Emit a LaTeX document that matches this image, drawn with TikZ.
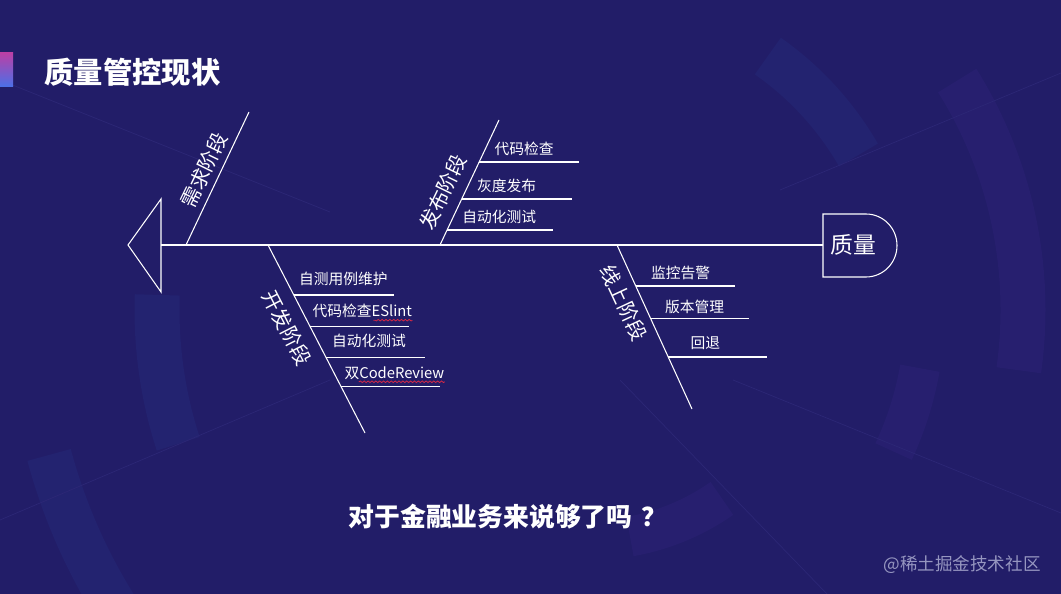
\documentclass[tikz,border=0pt]{standalone}
\usepackage{fontspec}
\setmainfont{Noto Sans CJK SC}
\usetikzlibrary{calc,decorations.pathmorphing}
\definecolor{bg}{RGB}{34,29,104}
\definecolor{bgpurple}{RGB}{39,31,111}
\definecolor{bgblue}{RGB}{35,35,112}
\definecolor{bgline}{RGB}{44,39,118}
\definecolor{spell}{RGB}{214,40,70}
\definecolor{wmgray}{RGB}{150,150,192}
\definecolor{barpink}{RGB}{186,64,166}
\definecolor{barblue}{RGB}{74,112,232}

\begin{document}
\begin{tikzpicture}[x=0.02cm, y=-0.02cm,
    every node/.style={text=white, inner sep=0pt},
    bone/.style={draw=white, line width=0.6pt},
    stage/.style={font=\fontsize{11.5}{12}\selectfont},
    item/.style={font=\fontsize{8.4}{9}\selectfont, anchor=west},
    spellmark/.style={draw=spell, line width=0.45pt, decorate,
      decoration={snake, amplitude=0.45pt, segment length=2.2pt}}]
  \useasboundingbox (0,0) rectangle (1061,594);
  % background
  \fill[bg] (0,0) rectangle (1061,594);
  \begin{scope}
    \clip (0,0) rectangle (1061,594);
    \coordinate (ctr) at (590,310);
    \draw[bgpurple, line width=0.9cm] ($(ctr)+(-32:433)$) arc[start angle=-32, end angle=8, radius=433];
    \draw[bgblue, line width=0.9cm] ($(ctr)+(162:433)$) arc[start angle=162, end angle=182, radius=433];
    \draw[bgblue, line width=0.9cm] ($(ctr)+(148:560)$) arc[start angle=148, end angle=165, radius=560];
    \draw[bgblue, line width=0.9cm] ($(ctr)+(-55:310)$) arc[start angle=-55, end angle=-30, radius=310];
    \draw[bgpurple, line width=0.8cm] ($(ctr)+(10:335)$) arc[start angle=10, end angle=25, radius=335];
    \draw[bgpurple, line width=0.8cm] ($(ctr)+(55:230)$) arc[start angle=55, end angle=80, radius=230];
    \draw[bgline] (0,80) -- (330,212);
    \draw[bgline] (0,520) -- (330,380);
    \draw[bgline] (780,190) -- (1061,73);
    \draw[bgline] (733,380) -- (1061,513);
    \draw[bgline] (620,380) -- (827,594);
  \end{scope}
  \shade[top color=barpink, bottom color=barblue] (0,53) rectangle (13,87);
  \node[font=\fontsize{16.7}{18}\selectfont\bfseries, anchor=west] (title) at (44,72) {质量管控现状};

  % spine, tail and head
  \coordinate (tip) at (128,245); \coordinate (tailtop) at (161,199); \coordinate (tailbot) at (161,292);
  \coordinate (tail) at (161,245); \coordinate (headw) at (823,245);
  \draw[bone] (tailtop) -- (tip) -- (tailbot) -- cycle;
  \draw[bone, line width=0.8pt] (tail) -- (headw);
  \draw[bone] (823,214) -- (866,214) arc[start angle=-90, end angle=90, x radius=31, y radius=31.5] -- (823,277) -- cycle;
  \node[font=\fontsize{13}{14}\selectfont] (head) at (853,245) {质量};

  % 需求阶段
  \coordinate (xq0) at (186,245); \coordinate (xq1) at (249,112);
  \draw[bone] (xq0) -- (xq1);
  \node[stage, rotate=64] (xq) at (204,170) {需求阶段};

  % 发布阶段
  \coordinate (fb0) at (440,245); \coordinate (fb1) at (499,120);
  \draw[bone] (fb0) -- (fb1);
  \node[stage, rotate=64] (fb) at (443,192) {发布阶段};
  \coordinate (fba) at ($(fb0)!0.664!(fb1)$); \coordinate (fbb) at ($(fb0)!0.368!(fb1)$); \coordinate (fbc) at ($(fb0)!0.12!(fb1)$);
  \draw[bone] (fba) -- ++(100,0); \node[item] (fba-t) at ($(fba)+(15,-13)$) {代码检查};
  \draw[bone] (fbb) -- ++(110,0); \node[item] (fbb-t) at ($(fbb)+(15,-13)$) {灰度发布};
  \draw[bone] (fbc) -- ++(106,0); \node[item] (fbc-t) at ($(fbc)+(15,-13)$) {自动化测试};

  % 开发阶段
  \coordinate (kf0) at (268,245); \coordinate (kf1) at (365,433);
  \draw[bone] (kf0) -- (kf1);
  \node[stage, rotate=-63] (kf) at (287,328) {开发阶段};
  \coordinate (kfa) at ($(kf0)!0.266!(kf1)$); \coordinate (kfb) at ($(kf0)!0.436!(kf1)$);
  \coordinate (kfc) at ($(kf0)!0.596!(kf1)$); \coordinate (kfd) at ($(kf0)!0.755!(kf1)$);
  \draw[bone] (kfa) -- ++(100,0); \node[item] (kfa-t) at ($(kfa)+(5,-16)$) {自测用例维护};
  \draw[bone] (kfb) -- ++(99,0); \node[item] (kfb-t) at ($(kfb)+(2,-16)$) {代码检查ESlint};
  \draw[bone] (kfc) -- ++(99,0); \node[item] (kfc-t) at ($(kfc)+(6,-16)$) {自动化测试};
  \draw[bone] (kfd) -- ++(99,0); \node[item] (kfd-t) at ($(kfd)+(3,-14)$) {双CodeReview};
  \draw[spellmark] ($(kfb-t.south east)+(0,2)$) -- ++(-39,0);
  \draw[spellmark] ($(kfd-t.south east)+(0,2)$) -- ++(-86,0);

  % 线上阶段
  \coordinate (xs0) at (617,245); \coordinate (xs1) at (692,409);
  \draw[bone] (xs0) -- (xs1);
  \node[stage, rotate=-65] (xs) at (624,303) {线上阶段};
  \coordinate (xsa) at ($(xs0)!0.25!(xs1)$); \coordinate (xsb) at ($(xs0)!0.451!(xs1)$); \coordinate (xsc) at ($(xs0)!0.683!(xs1)$);
  \draw[bone] (xsa) -- ++(99,0); \node[item] (xsa-t) at ($(xsa)+(15,-13)$) {监控告警};
  \draw[bone] (xsb) -- ++(98,0); \node[item] (xsb-t) at ($(xsb)+(14,-12)$) {版本管理};
  \draw[bone] (xsc) -- ++(99,0); \node[item] (xsc-t) at ($(xsc)+(22,-14)$) {回退};

  % question and watermark
  \node[font=\fontsize{14.7}{16}\selectfont\bfseries] (ask) at (508,517) {对于金融业务来说够了吗\hspace{0.35em}？};
  \node[font=\fontsize{10}{12}\selectfont, text=wmgray, anchor=east] (wm) at (1041,565) {@稀土掘金技术社区};
\end{tikzpicture}
\end{document}
